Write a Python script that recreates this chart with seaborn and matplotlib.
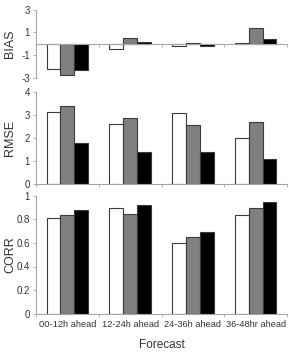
import numpy as np
import pandas as pd
import matplotlib
matplotlib.use("Agg")
import matplotlib.pyplot as plt
import seaborn as sns

# ----------------------------
# DANE
# ----------------------------
forecasts = ["00-12h ahead", "12-24h ahead", "24-36h ahead", "36-48hr ahead"]
models = ["A", "B", "C"]

bias_a = [-2.25, -0.45, -0.18, 0.08]
bias_b = [-2.75, 0.45, 0.05, 1.38]
bias_c = [-2.3, 0.15, -0.2, 0.4]

rmse_a = [3.15, 2.6, 3.1, 2.0]
rmse_b = [3.4, 2.85, 2.55, 2.7]
rmse_c = [1.8, 1.4, 1.4, 1.1]

corr_a = [0.81, 0.90, 0.60, 0.84]
corr_b = [0.84, 0.85, 0.65, 0.90]
corr_c = [0.88, 0.92, 0.69, 0.95]

bias_ticks = [-3, -1, 1, 3]
rmse_ticks = [0, 1, 2, 3, 4]
corr_ticks = [0, 0.2, 0.4, 0.6, 0.8, 1]
corr_ticklabels = ["0", "0.2", "0.4", "0.6", "0.8", "1"]


def to_frame(a, b, c):
    rows = []
    for vals, m in zip([a, b, c], models):
        for f, v in zip(forecasts, vals):
            rows.append({"forecast": f, "model": m, "value": v})
    return pd.DataFrame(rows)


sns.set_style("white")
plt.rcParams["font.family"] = ["Liberation Sans", "DejaVu Sans"]

AXIS_COL = "#a6a6a6"
TEXT_COL = "#333333"
palette = {"A": "#ffffff", "B": "#808080", "C": "#000000"}

fig = plt.figure(figsize=(2.89, 3.54), dpi=100)
left, width = 36 / 289, 251 / 289
ax_bias = fig.add_axes([left, 1 - 77.5 / 354, width, 68 / 354])
ax_rmse = fig.add_axes([left, 1 - 184 / 354, width, 92 / 354])
ax_corr = fig.add_axes([left, 1 - 313.5 / 354, width, 117.5 / 354])

panels = [
    (ax_bias, to_frame(bias_a, bias_b, bias_c), "BIAS", (-3, 3), bias_ticks, [str(t) for t in bias_ticks]),
    (ax_rmse, to_frame(rmse_a, rmse_b, rmse_c), "RMSE", (0, 4), rmse_ticks, [str(t) for t in rmse_ticks]),
    (ax_corr, to_frame(corr_a, corr_b, corr_c), "CORR", (0, 1), corr_ticks, corr_ticklabels),
]

for ax, df, name, ylim, ticks, ticklabels in panels:
    sns.barplot(data=df, x="forecast", y="value", hue="model", palette=palette,
                width=0.66, edgecolor="#3a3a3a", linewidth=0.8, legend=False, ax=ax)
    ax.set_xlim(-0.5, 3.5)
    ax.set_ylim(*ylim)
    ax.set_yticks(ticks)
    ax.set_yticklabels(ticklabels)
    ax.set_ylabel(name, fontsize=9, color=TEXT_COL)
    ax.yaxis.set_label_coords(-0.08, 0.5)
    ax.set_xlabel("")

    for s in ["top", "right"]:
        ax.spines[s].set_visible(False)
    for s in ["left", "bottom"]:
        ax.spines[s].set_color(AXIS_COL)
        ax.spines[s].set_linewidth(0.8)
    if name == "BIAS":
        ax.spines["bottom"].set_position(("data", 0))

    ax.tick_params(axis="y", direction="out", length=2.5, width=0.6, color=AXIS_COL,
                   labelsize=7, labelcolor=TEXT_COL, pad=2, left=True)
    ax.set_xticks([-0.5, 0.5, 1.5, 2.5, 3.5], minor=True)
    ax.tick_params(axis="x", which="minor", direction="out", length=2.5, width=0.6,
                   color=AXIS_COL, bottom=True)
    ax.tick_params(axis="x", which="major", length=0, labelsize=6.7,
                   labelcolor=TEXT_COL, pad=5)
    if name != "CORR":
        ax.tick_params(axis="x", which="both", labelbottom=False)

ax_corr.set_xlabel("Forecast", fontsize=8.5, color=TEXT_COL, labelpad=7)

fig.savefig("out.png", dpi=100)
